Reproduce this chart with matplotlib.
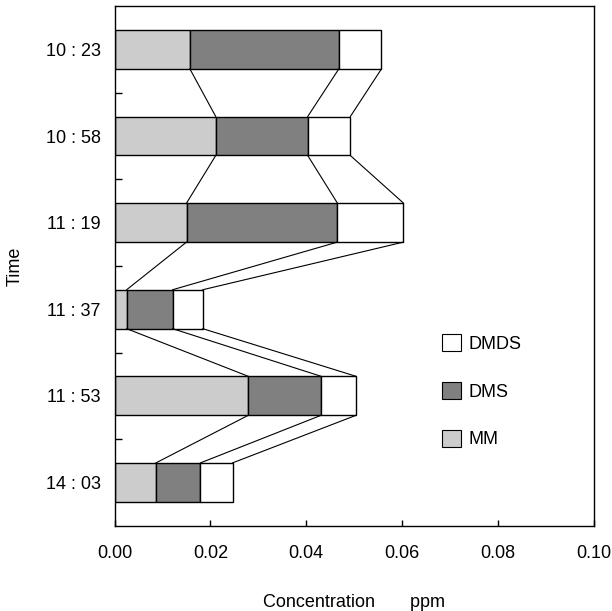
import numpy as np
import matplotlib.pyplot as plt
from matplotlib.patches import Patch

plt.rcParams['font.family'] = ['Liberation Sans', 'DejaVu Sans']

times = ["10 : 23", "10 : 58", "11 : 19", "11 : 37", "11 : 53", "14 : 03"]
mm = [0.0157, 0.0211, 0.0150, 0.0025, 0.0279, 0.0086]
dms = [0.0311, 0.0192, 0.0315, 0.0096, 0.0152, 0.0093]
dmds = [0.0089, 0.0089, 0.0138, 0.0063, 0.0073, 0.0067]

series = [("MM", mm, "#cccccc"), ("DMS", dms, "#808080"), ("DMDS", dmds, "white")]

fig = plt.figure(figsize=(6.12, 6.11), dpi=100)
ax = fig.add_axes([0.1874, 0.1396, 0.970 - 0.1874, 0.990 - 0.1396])

y = np.arange(len(times))
h = 0.45
left = np.zeros(len(times))
ends = []
for name, vals, col in series:
    ax.barh(y, vals, height=h, left=left, color=col, edgecolor="black", linewidth=1.0)
    left = left + np.array(vals)
    ends.append(left.copy())

# series lines between neighbouring bars
for e in ends:
    for i in range(len(times) - 1):
        ax.plot([e[i], e[i + 1]], [i + h / 2, i + 1 - h / 2], color="black", lw=0.8)

ax.set_xlim(0, 0.10)
ax.set_ylim(len(times) - 0.5, -0.5)
ax.set_xticks([0, 0.02, 0.04, 0.06, 0.08, 0.10])
ax.set_xticklabels(["0.00", "0.02", "0.04", "0.06", "0.08", "0.10"])
ax.set_yticks(y)
ax.set_yticklabels(times)
ax.set_yticks(np.arange(0.5, len(times) - 1, 1.0), minor=True)
ax.tick_params(axis="y", which="major", length=0, pad=10, labelsize=13)
ax.tick_params(axis="y", which="minor", direction="in", length=5, width=1)
ax.tick_params(axis="x", direction="in", length=4.5, width=1, pad=14, labelsize=13)
for s in ax.spines.values():
    s.set_linewidth(1.0)

ax.set_xlabel("Concentration       ppm", fontsize=13, labelpad=23)
ax.set_ylabel("Time", fontsize=13, labelpad=16)

handles = [Patch(facecolor=c, edgecolor="black", lw=0.8, label=n) for n, v, c in series[::-1]]
ax.legend(handles=handles, loc="upper left", bbox_to_anchor=(441.5 / 612, 1 - 334 / 611),
          bbox_transform=fig.transFigure, frameon=False, fontsize=13,
          handlelength=1.07, handleheight=1.07, handletextpad=0.45,
          labelspacing=1.62, borderpad=0, borderaxespad=0)

fig.savefig("out.png", dpi=100)
